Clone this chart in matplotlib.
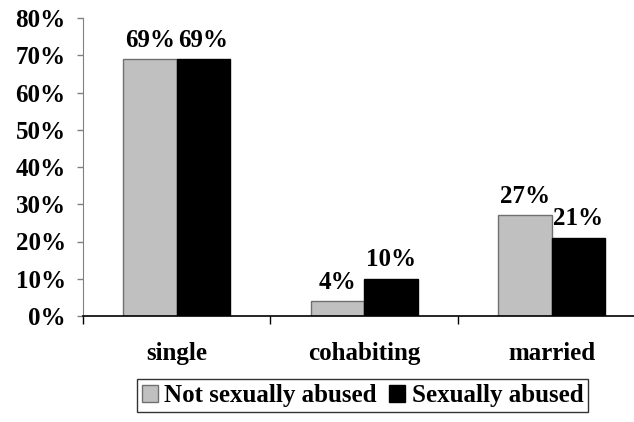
import matplotlib.pyplot as plt
import numpy as np
from matplotlib.ticker import FixedLocator, PercentFormatter

FSIZE = 18

categories = ['single', 'cohabiting', 'married']
not_abused = [69, 4, 27]
abused = [69, 10, 21]
series_names = ['Not sexually abused', 'Sexually abused']
yticks = [0, 10, 20, 30, 40, 50, 60, 70, 80]

plt.rc('font', family='Liberation Serif', weight='bold')

W, H = 634, 422
fig = plt.figure(figsize=(W / 100, H / 100), dpi=100)
ax = fig.add_axes([83 / W, (H - 316) / H, (634 - 83) / W, (316 - 18) / H])

x = np.arange(len(categories))
bw = 0.285
b1 = ax.bar(x - bw / 2, not_abused, bw, color='#c0c0c0', edgecolor='#707070', linewidth=1, label=series_names[0])
b2 = ax.bar(x + bw / 2, abused, bw, color='black', edgecolor='black', linewidth=1, label=series_names[1])

# data labels
for bars, vals in ((b1, not_abused), (b2, abused)):
  for rect, v in zip(bars, vals):
    ax.text(rect.get_x() + rect.get_width() / 2, v + 2.0, '{:d}%'.format(v),
            ha='center', va='bottom', fontsize=FSIZE, fontweight='bold')

ax.set_xlim(-0.5, 2.44)
ax.set_ylim(0, 80)
ax.set_yticks(yticks)
ax.yaxis.set_major_formatter(PercentFormatter(decimals=0))
ax.tick_params(axis='y', direction='out', length=4.5, width=1, color='#808080',
               labelsize=FSIZE, pad=8)

ax.set_xticks(x)
ax.set_xticklabels(categories)
ax.tick_params(axis='x', which='major', length=0, labelsize=FSIZE, pad=19)
ax.xaxis.set_minor_locator(FixedLocator([-0.5, 0.5, 1.5]))
ax.tick_params(axis='x', which='minor', direction='out', length=6, width=1, color='black')

for s in ('top', 'right'):
  ax.spines[s].set_visible(False)
ax.spines['left'].set_color('#808080')
ax.spines['bottom'].set_color('black')
ax.spines['bottom'].set_linewidth(1.2)

leg = fig.legend(loc='center', bbox_to_anchor=(362.5 / W, 1 - 395.5 / H), ncol=2,
                 fontsize=FSIZE, frameon=True, fancybox=False, edgecolor='black',
                 handlelength=0.65, handleheight=0.65, handletextpad=0.25,
                 columnspacing=0.5, borderpad=0.2, borderaxespad=0)
leg.get_frame().set_linewidth(1)

fig.savefig('out.png', dpi=100)
